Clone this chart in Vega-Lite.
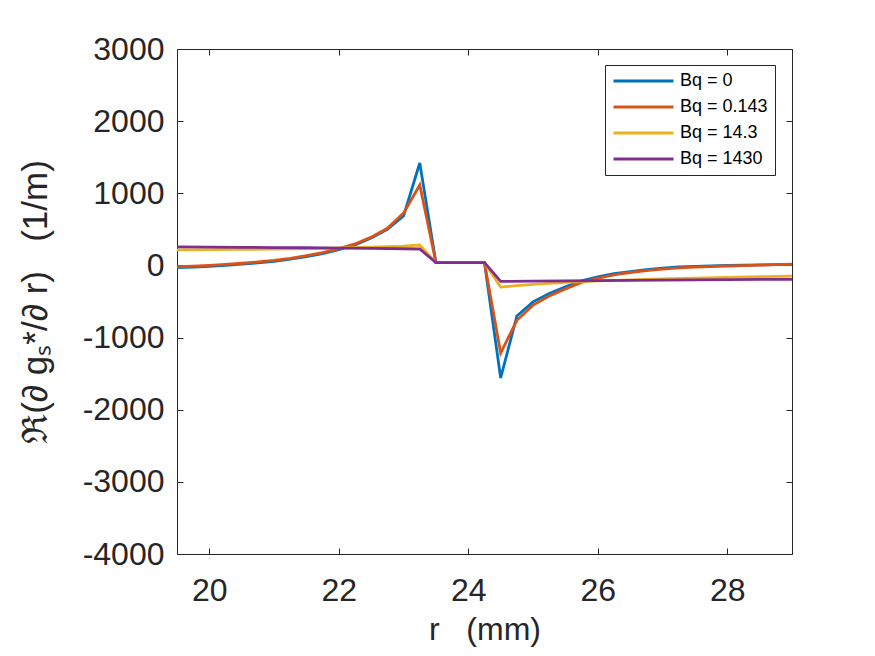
{
  "$schema": "https://vega.github.io/schema/vega-lite/v6.json",
  "width": 615,
  "height": 505,
  "autosize": {"type": "none"},
  "padding": {"left": 177, "top": 49, "right": 83, "bottom": 102},
  "background": "white",
  "config": {
    "view": {"stroke": null},
    "font": "Liberation Sans",
    "axis": {
      "grid": false,
      "domainColor": "#262626",
      "tickColor": "#262626",
      "labelColor": "#262626",
      "titleColor": "#262626",
      "labelFontSize": 32,
      "titleFontSize": 32,
      "titleFontWeight": "normal",
      "tickSize": -6,
      "tickWidth": 1
    }
  },
  "data": {
    "values": [
      {"r": 19.5, "v": -30, "series": "Bq = 0"},
      {"r": 19.75, "v": -22, "series": "Bq = 0"},
      {"r": 20, "v": -12, "series": "Bq = 0"},
      {"r": 20.25, "v": 2, "series": "Bq = 0"},
      {"r": 20.5, "v": 18, "series": "Bq = 0"},
      {"r": 20.75, "v": 36, "series": "Bq = 0"},
      {"r": 21, "v": 58, "series": "Bq = 0"},
      {"r": 21.25, "v": 86, "series": "Bq = 0"},
      {"r": 21.5, "v": 122, "series": "Bq = 0"},
      {"r": 21.75, "v": 165, "series": "Bq = 0"},
      {"r": 22, "v": 220, "series": "Bq = 0"},
      {"r": 22.25, "v": 285, "series": "Bq = 0"},
      {"r": 22.5, "v": 380, "series": "Bq = 0"},
      {"r": 22.75, "v": 500, "series": "Bq = 0"},
      {"r": 23, "v": 685, "series": "Bq = 0"},
      {"r": 23.25, "v": 1420, "series": "Bq = 0"},
      {"r": 23.5, "v": 38, "series": "Bq = 0"},
      {"r": 23.75, "v": 38, "series": "Bq = 0"},
      {"r": 24, "v": 38, "series": "Bq = 0"},
      {"r": 24.25, "v": 38, "series": "Bq = 0"},
      {"r": 24.5, "v": -1560, "series": "Bq = 0"},
      {"r": 24.75, "v": -700, "series": "Bq = 0"},
      {"r": 25, "v": -505, "series": "Bq = 0"},
      {"r": 25.25, "v": -388, "series": "Bq = 0"},
      {"r": 25.5, "v": -298, "series": "Bq = 0"},
      {"r": 25.75, "v": -215, "series": "Bq = 0"},
      {"r": 26, "v": -160, "series": "Bq = 0"},
      {"r": 26.25, "v": -115, "series": "Bq = 0"},
      {"r": 26.5, "v": -85, "series": "Bq = 0"},
      {"r": 26.75, "v": -58, "series": "Bq = 0"},
      {"r": 27, "v": -38, "series": "Bq = 0"},
      {"r": 27.25, "v": -22, "series": "Bq = 0"},
      {"r": 27.5, "v": -12, "series": "Bq = 0"},
      {"r": 27.75, "v": -5, "series": "Bq = 0"},
      {"r": 28, "v": 0, "series": "Bq = 0"},
      {"r": 28.25, "v": 4, "series": "Bq = 0"},
      {"r": 28.5, "v": 7, "series": "Bq = 0"},
      {"r": 28.75, "v": 10, "series": "Bq = 0"},
      {"r": 29, "v": 13, "series": "Bq = 0"},

      {"r": 19.5, "v": -18, "series": "Bq = 0.143"},
      {"r": 19.75, "v": -10, "series": "Bq = 0.143"},
      {"r": 20, "v": 0, "series": "Bq = 0.143"},
      {"r": 20.25, "v": 14, "series": "Bq = 0.143"},
      {"r": 20.5, "v": 30, "series": "Bq = 0.143"},
      {"r": 20.75, "v": 48, "series": "Bq = 0.143"},
      {"r": 21, "v": 70, "series": "Bq = 0.143"},
      {"r": 21.25, "v": 98, "series": "Bq = 0.143"},
      {"r": 21.5, "v": 135, "series": "Bq = 0.143"},
      {"r": 21.75, "v": 178, "series": "Bq = 0.143"},
      {"r": 22, "v": 232, "series": "Bq = 0.143"},
      {"r": 22.25, "v": 298, "series": "Bq = 0.143"},
      {"r": 22.5, "v": 392, "series": "Bq = 0.143"},
      {"r": 22.75, "v": 515, "series": "Bq = 0.143"},
      {"r": 23, "v": 725, "series": "Bq = 0.143"},
      {"r": 23.25, "v": 1115, "series": "Bq = 0.143"},
      {"r": 23.5, "v": 38, "series": "Bq = 0.143"},
      {"r": 23.75, "v": 38, "series": "Bq = 0.143"},
      {"r": 24, "v": 38, "series": "Bq = 0.143"},
      {"r": 24.25, "v": 38, "series": "Bq = 0.143"},
      {"r": 24.5, "v": -1215, "series": "Bq = 0.143"},
      {"r": 24.75, "v": -760, "series": "Bq = 0.143"},
      {"r": 25, "v": -550, "series": "Bq = 0.143"},
      {"r": 25.25, "v": -425, "series": "Bq = 0.143"},
      {"r": 25.5, "v": -325, "series": "Bq = 0.143"},
      {"r": 25.75, "v": -235, "series": "Bq = 0.143"},
      {"r": 26, "v": -178, "series": "Bq = 0.143"},
      {"r": 26.25, "v": -132, "series": "Bq = 0.143"},
      {"r": 26.5, "v": -98, "series": "Bq = 0.143"},
      {"r": 26.75, "v": -72, "series": "Bq = 0.143"},
      {"r": 27, "v": -52, "series": "Bq = 0.143"},
      {"r": 27.25, "v": -35, "series": "Bq = 0.143"},
      {"r": 27.5, "v": -24, "series": "Bq = 0.143"},
      {"r": 27.75, "v": -15, "series": "Bq = 0.143"},
      {"r": 28, "v": -8, "series": "Bq = 0.143"},
      {"r": 28.25, "v": -2, "series": "Bq = 0.143"},
      {"r": 28.5, "v": 4, "series": "Bq = 0.143"},
      {"r": 28.75, "v": 10, "series": "Bq = 0.143"},
      {"r": 29, "v": 18, "series": "Bq = 0.143"},

      {"r": 19.5, "v": 215, "series": "Bq = 14.3"},
      {"r": 20, "v": 218, "series": "Bq = 14.3"},
      {"r": 20.5, "v": 222, "series": "Bq = 14.3"},
      {"r": 21, "v": 227, "series": "Bq = 14.3"},
      {"r": 21.5, "v": 233, "series": "Bq = 14.3"},
      {"r": 22, "v": 242, "series": "Bq = 14.3"},
      {"r": 22.5, "v": 252, "series": "Bq = 14.3"},
      {"r": 23, "v": 268, "series": "Bq = 14.3"},
      {"r": 23.25, "v": 283, "series": "Bq = 14.3"},
      {"r": 23.5, "v": 38, "series": "Bq = 14.3"},
      {"r": 24.25, "v": 38, "series": "Bq = 14.3"},
      {"r": 24.5, "v": -300, "series": "Bq = 14.3"},
      {"r": 24.75, "v": -280, "series": "Bq = 14.3"},
      {"r": 25, "v": -263, "series": "Bq = 14.3"},
      {"r": 25.25, "v": -249, "series": "Bq = 14.3"},
      {"r": 25.5, "v": -236, "series": "Bq = 14.3"},
      {"r": 25.75, "v": -225, "series": "Bq = 14.3"},
      {"r": 26, "v": -215, "series": "Bq = 14.3"},
      {"r": 26.5, "v": -199, "series": "Bq = 14.3"},
      {"r": 27, "v": -186, "series": "Bq = 14.3"},
      {"r": 27.5, "v": -175, "series": "Bq = 14.3"},
      {"r": 28, "v": -165, "series": "Bq = 14.3"},
      {"r": 28.5, "v": -156, "series": "Bq = 14.3"},
      {"r": 29, "v": -147, "series": "Bq = 14.3"},

      {"r": 19.5, "v": 258, "series": "Bq = 1430"},
      {"r": 20, "v": 255, "series": "Bq = 1430"},
      {"r": 20.5, "v": 251, "series": "Bq = 1430"},
      {"r": 21, "v": 248, "series": "Bq = 1430"},
      {"r": 21.5, "v": 245, "series": "Bq = 1430"},
      {"r": 22, "v": 241, "series": "Bq = 1430"},
      {"r": 22.5, "v": 236, "series": "Bq = 1430"},
      {"r": 23, "v": 231, "series": "Bq = 1430"},
      {"r": 23.25, "v": 228, "series": "Bq = 1430"},
      {"r": 23.5, "v": 38, "series": "Bq = 1430"},
      {"r": 24.25, "v": 38, "series": "Bq = 1430"},
      {"r": 24.5, "v": -222, "series": "Bq = 1430"},
      {"r": 25, "v": -218, "series": "Bq = 1430"},
      {"r": 25.5, "v": -214, "series": "Bq = 1430"},
      {"r": 26, "v": -210, "series": "Bq = 1430"},
      {"r": 27, "v": -203, "series": "Bq = 1430"},
      {"r": 28, "v": -197, "series": "Bq = 1430"},
      {"r": 29, "v": -192, "series": "Bq = 1430"}
    ]
  },
  "layer": [
    {
      "mark": {"type": "line", "strokeWidth": 2.8, "clip": true},
      "encoding": {
        "x": {
          "field": "r",
          "type": "quantitative",
          "scale": {"domain": [19.5, 29], "nice": false, "zero": false},
          "axis": {
            "orient": "bottom",
            "values": [20, 22, 24, 26, 28],
            "title": "r\u00a0\u00a0\u00a0(mm)",
            "labelPadding": 27,
            "titlePadding": 8
          }
        },
        "y": {
          "field": "v",
          "type": "quantitative",
          "scale": {"domain": [-4000, 3000], "nice": false},
          "axis": {
            "orient": "left",
            "values": [-4000, -3000, -2000, -1000, 0, 1000, 2000, 3000],
            "labelExpr": "'' + datum.value",
            "title": "ℜ(∂ gₛ*/∂ r)\u00a0\u00a0\u00a0(1/m)",
            "titleFontSize": 35,
            "labelPadding": 19,
            "titlePadding": 29
          }
        },
        "color": {
          "field": "series",
          "type": "nominal",
          "sort": ["Bq = 0", "Bq = 0.143", "Bq = 14.3", "Bq = 1430"],
          "scale": {
            "domain": ["Bq = 0", "Bq = 0.143", "Bq = 14.3", "Bq = 1430"],
            "range": ["#0072BD", "#D95319", "#EDB120", "#7E2F8E"]
          },
          "legend": {
            "orient": "none",
            "legendX": 428,
            "legendY": 16,
            "title": null,
            "symbolType": "M-1,0H7",
            "symbolSize": 225,
            "symbolStrokeWidth": 2.8,
            "labelFontSize": 18,
            "labelColor": "black",
            "labelOffset": 50,
            "padding": 7,
            "rowPadding": 8,
            "strokeColor": "#262626",
            "fillColor": "white"
          }
        }
      }
    },
    {
      "mark": {"type": "line", "strokeOpacity": 0},
      "encoding": {
        "x": {
          "field": "r",
          "type": "quantitative",
          "scale": {"domain": [19.5, 29], "nice": false, "zero": false},
          "axis": {"orient": "top", "values": [20, 22, 24, 26, 28], "labels": false, "title": null}
        },
        "y": {
          "field": "v",
          "type": "quantitative",
          "scale": {"domain": [-4000, 3000], "nice": false},
          "axis": {
            "orient": "right",
            "values": [-4000, -3000, -2000, -1000, 0, 1000, 2000, 3000],
            "labels": false,
            "title": null
          }
        },
        "detail": {"field": "series"}
      }
    }
  ],
  "resolve": {"axis": {"x": "independent", "y": "independent"}}
}
